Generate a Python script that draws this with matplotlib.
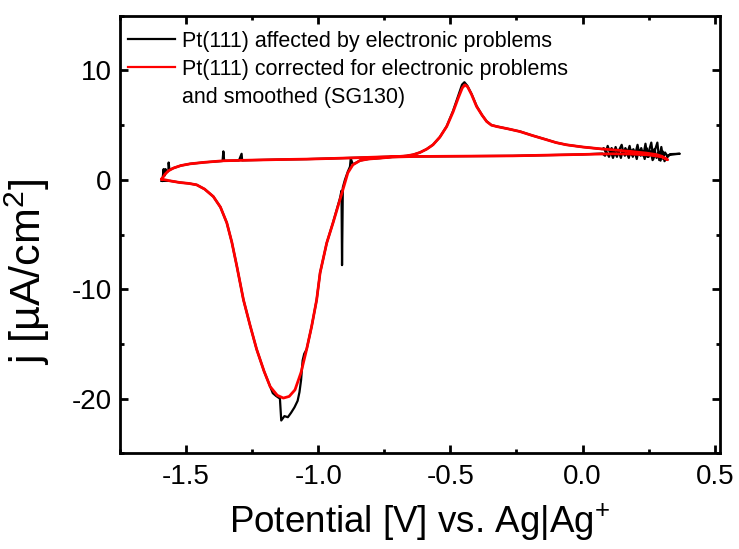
import matplotlib
matplotlib.use("Agg")
import matplotlib.pyplot as plt
from matplotlib.lines import Line2D
from matplotlib.ticker import MultipleLocator

plt.rcParams['font.family'] = ['Liberation Sans', 'DejaVu Sans']
plt.rcParams['mathtext.fontset'] = 'custom'
plt.rcParams['mathtext.rm'] = 'Liberation Sans'
plt.rcParams['mathtext.it'] = 'Liberation Sans'

# ---- smoothed cyclic voltammogram (SG130) ----
# anodic sweep, -1.59 V -> 0.32 V
red_anodic_v = [-1.592, -1.58, -1.567, -1.548, -1.52, -1.485, -1.43, -1.359, -1.25, -1.15,
                -1.044, -0.95, -0.85, -0.75, -0.691, -0.666, -0.64, -0.615, -0.59, -0.566,
                -0.54, -0.514, -0.49, -0.47, -0.455, -0.445, -0.435, -0.42, -0.401, -0.38,
                -0.363, -0.345, -0.325, -0.28, -0.237, -0.19, -0.136, -0.10, -0.061, 0.0,
                0.06, 0.114, 0.18, 0.242, 0.28, 0.30, 0.322]
red_anodic_j = [0.06, 0.5, 0.82, 1.07, 1.3, 1.46, 1.6, 1.74, 1.8, 1.85,
                1.89, 1.95, 2.02, 2.1, 2.14, 2.19, 2.3, 2.5, 2.8, 3.2,
                3.9, 4.87, 6.2, 7.5, 8.4, 8.68, 8.5, 7.8, 6.7, 5.9,
                5.33, 5.0, 4.87, 4.65, 4.41, 4.05, 3.66, 3.4, 3.2, 3.0,
                2.85, 2.74, 2.6, 2.44, 2.3, 2.15, 1.83]
# cathodic sweep, 0.32 V -> -1.59 V
red_cathodic_v = [0.322, 0.30, 0.25, 0.18, 0.114, 0.0, -0.1, -0.264, -0.45, -0.642,
                  -0.72, -0.767, -0.81, -0.842, -0.869, -0.888, -0.899, -0.918, -0.944, -0.968,
                  -0.993, -1.006, -1.025, -1.044, -1.065, -1.088, -1.11, -1.132, -1.155, -1.182,
                  -1.205, -1.233, -1.258, -1.283, -1.308, -1.327, -1.346, -1.37, -1.397, -1.43,
                  -1.46, -1.49, -1.523, -1.56, -1.592]
red_cathodic_j = [1.83, 2.1, 2.28, 2.36, 2.38, 2.32, 2.27, 2.19, 2.16, 2.13,
                  2.08, 1.98, 1.9, 1.76, 1.37, 0.64, -0.27, -1.83, -3.93, -5.78,
                  -8.5, -10.97, -13.4, -15.5, -17.6, -19.2, -19.8, -19.95, -19.7, -18.9,
                  -17.5, -15.5, -13.3, -10.97, -7.9, -5.7, -3.93, -2.5, -1.53, -0.85,
                  -0.46, -0.33, -0.25, -0.1, 0.06]

# ---- raw cyclic voltammogram with electronic artefacts ----
black_anodic_v = [-1.592, -1.588, -1.585, -1.583, -1.579, -1.578, -1.573, -1.567, -1.566, -1.563,
                  -1.548, -1.52, -1.485, -1.43, -1.362, -1.359, -1.356, -1.30, -1.290, -1.288,
                  -1.25, -1.15, -1.044, -0.95, -0.85, -0.75, -0.691, -0.666, -0.64, -0.615,
                  -0.59, -0.566, -0.54, -0.514, -0.49, -0.47, -0.456, -0.447, -0.436, -0.42,
                  -0.401, -0.38, -0.363, -0.345, -0.325, -0.28, -0.237, -0.19, -0.136, -0.10,
                  -0.061, 0.0, 0.04, 0.075,
                  0.080, 0.088, 0.095, 0.102, 0.110, 0.118, 0.125, 0.132, 0.140, 0.148,
                  0.155, 0.162, 0.170, 0.178, 0.185, 0.192, 0.200, 0.208, 0.215, 0.222,
                  0.230, 0.238, 0.245, 0.252, 0.260, 0.268, 0.275, 0.283, 0.290, 0.298,
                  0.305, 0.312, 0.320, 0.335, 0.368]
black_anodic_j = [-0.1, 0.3, 0.98, 0.35, 0.5, 0.98, 0.7, 0.8, 1.58, 0.9,
                  1.07, 1.3, 1.46, 1.6, 1.72, 2.6, 1.74, 1.77, 2.38, 1.78,
                  1.8, 1.85, 1.89, 1.95, 2.02, 2.1, 2.14, 2.19, 2.3, 2.5,
                  2.8, 3.2, 3.9, 4.9, 6.3, 7.7, 8.7, 8.92, 8.6, 7.85,
                  6.75, 5.9, 5.35, 5.0, 4.88, 4.65, 4.42, 4.05, 3.67, 3.4,
                  3.2, 3.0, 2.9, 2.8,
                  2.9, 2.5, 3.1, 2.6, 2.9, 2.4, 3.0, 2.5, 2.8, 3.2,
                  2.4, 2.9, 2.5, 3.1, 2.3, 2.8, 2.4, 3.2, 2.3, 2.9,
                  2.2, 3.3, 2.1, 2.7, 3.4, 1.9, 2.8, 3.4, 1.8, 3.0,
                  1.9, 2.5, 2.2, 2.35, 2.38]
black_cathodic_v = [0.368, 0.33, 0.318, 0.310, 0.303, 0.295, 0.288, 0.280, 0.272, 0.265,
                    0.257, 0.250, 0.242, 0.235, 0.227, 0.220, 0.212, 0.205, 0.197, 0.190,
                    0.182, 0.175, 0.167, 0.160, 0.152, 0.145, 0.137, 0.130, 0.122, 0.115,
                    0.107, 0.100, 0.092, 0.085, 0.075,
                    0.0, -0.1, -0.264, -0.45, -0.642, -0.72, -0.767, -0.81, -0.842, -0.869,
                    -0.877, -0.880, -0.888, -0.899, -0.907, -0.910, -0.912, -0.918, -0.944, -0.968,
                    -0.993, -1.006, -1.025, -1.044, -1.053, -1.059, -1.065, -1.071, -1.078, -1.09,
                    -1.103, -1.115, -1.128, -1.14, -1.145, -1.16, -1.172, -1.182, -1.205, -1.233,
                    -1.258, -1.283, -1.308, -1.327, -1.346, -1.37, -1.397, -1.43, -1.46, -1.49,
                    -1.523, -1.56, -1.592]
black_cathodic_j = [2.38, 2.3, 2.0, 1.7, 2.6, 1.75, 2.5, 2.0, 2.8, 1.8,
                    2.6, 2.1, 2.9, 1.9, 2.6, 2.2, 2.7, 1.9, 2.6, 2.1,
                    2.7, 2.0, 2.5, 2.2, 2.7, 2.0, 2.6, 2.1, 2.5, 2.0,
                    2.6, 2.1, 2.5, 2.2, 2.4,
                    2.32, 2.27, 2.19, 2.16, 2.13, 2.08, 1.98, 1.9, 1.76, 1.4,
                    1.95, 1.2, 0.75, 0.0, -0.7, -7.8, -1.0, -1.7, -3.9, -5.78,
                    -8.5, -10.97, -13.4, -15.5, -15.9, -16.5, -18.3, -19.4, -20.2, -20.8,
                    -21.3, -21.7, -21.6, -22.0, -20.0, -19.75, -19.5, -18.9, -17.5, -15.5,
                    -13.3, -10.97, -7.9, -5.7, -3.93, -2.5, -1.53, -0.85, -0.46, -0.33,
                    -0.25, -0.1, -0.1]

legend_labels = ["Pt(111) affected by electronic problems",
                 "Pt(111) corrected for electronic problems",
                 "and smoothed (SG130)"]

fig = plt.figure(figsize=(7.39, 5.49), dpi=100)
ax = fig.add_axes([0.1624, 0.1743, 0.8119, 0.7971])

ax.plot(black_anodic_v + black_cathodic_v, black_anodic_j + black_cathodic_j,
        color='black', lw=1.6, solid_joinstyle='round')
ax.plot(red_anodic_v + red_cathodic_v, red_anodic_j + red_cathodic_j,
        color='#ff0000', lw=2.0, solid_joinstyle='round')

ax.set_xlim(-1.75, 0.52)
ax.set_ylim(-25, 15)
ax.xaxis.set_minor_locator(MultipleLocator(0.25))
ax.yaxis.set_minor_locator(MultipleLocator(5))
ax.set_xticks([-1.5, -1.0, -0.5, 0.0, 0.5])
ax.set_xticklabels(["-1.5", "-1.0", "-0.5", "0.0", "0.5"])
ax.set_yticks([-20, -10, 0, 10])
ax.set_yticklabels(["-20", "-10", "0", "10"])

for s in ax.spines.values():
    s.set_linewidth(2.0)
ax.tick_params(which='both', direction='in', top=True, right=True, width=2.0)
ax.tick_params(which='major', length=6, labelsize=20)
ax.tick_params(axis='x', which='major', pad=8)
ax.tick_params(axis='y', which='major', pad=6)
ax.tick_params(which='minor', length=3)

ax.set_xlabel("Potential [V] vs. Ag|Ag$^{+}$", fontsize=26.5, labelpad=8)
ax.set_ylabel("j [µA/cm$^{2}$]", fontsize=31)
ax.yaxis.set_label_coords(-0.113, 0.414)

handles = [Line2D([], [], color='black', lw=1.6),
           Line2D([], [], color='#ff0000', lw=1.6),
           Line2D([], [], color='none', lw=0)]
ax.legend(handles, legend_labels, loc='upper left', bbox_to_anchor=(0.0133, 0.966),
          frameon=False, fontsize=15.5, handlelength=2.2, handletextpad=0.33,
          labelspacing=0.33, borderaxespad=0.0, borderpad=0.0)

fig.savefig("out.png", dpi=100)
